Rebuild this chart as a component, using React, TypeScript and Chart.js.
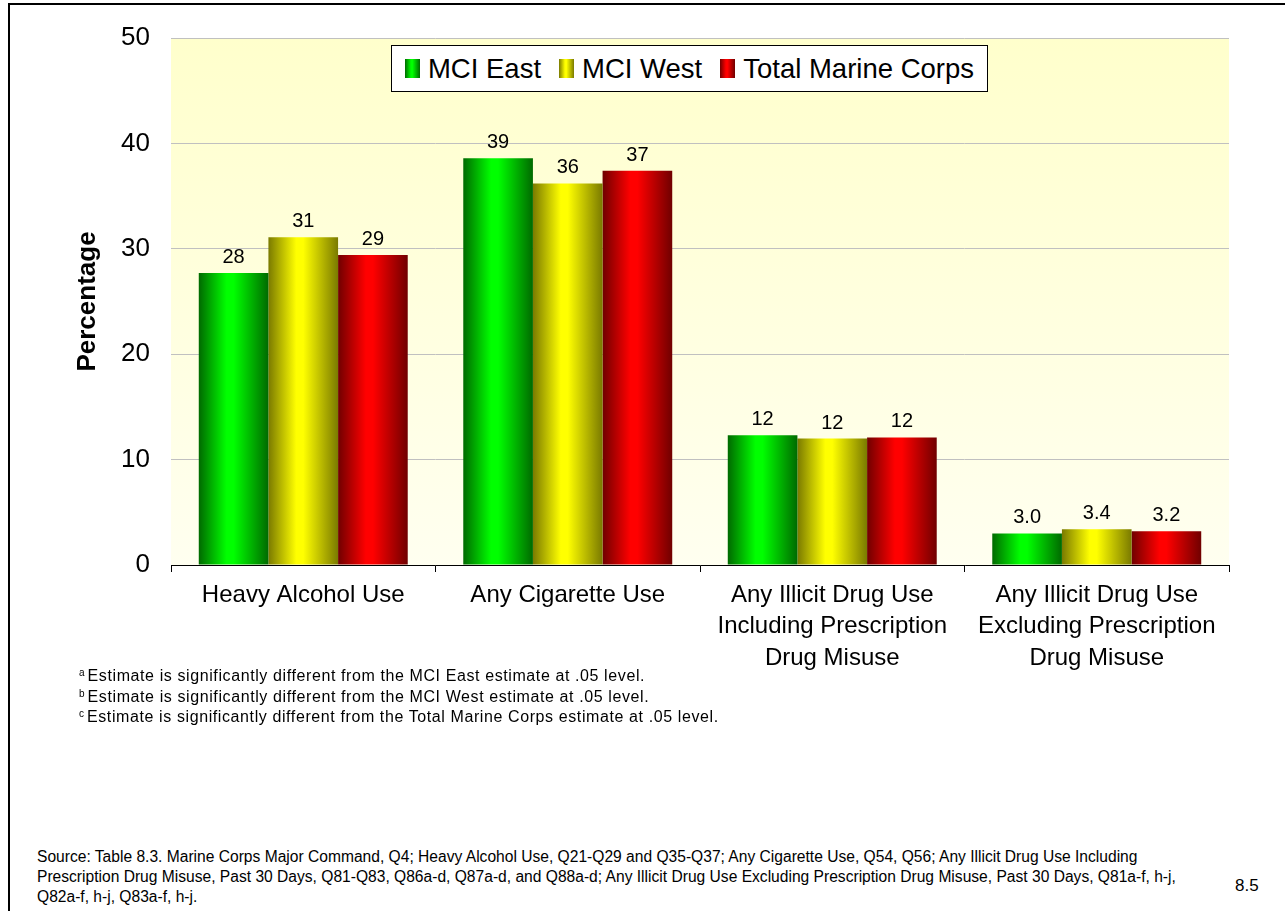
import React, { useEffect, useRef } from "react";
import { Chart, registerables } from "chart.js";

Chart.register(...registerables);

const FONT = '"Liberation Sans", Arial, Helvetica, sans-serif';

const categories: string[][] = [
  ["Heavy Alcohol Use"],
  ["Any Cigarette Use"],
  ["Any Illicit Drug Use", "Including Prescription", "Drug Misuse"],
  ["Any Illicit Drug Use", "Excluding Prescription", "Drug Misuse"],
];

const seriesNames = ["MCI East", "MCI West", "Total Marine Corps"];
const mciEast = [27.7, 38.6, 12.3, 3.0];
const mciWest = [31.1, 36.2, 12.0, 3.4];
const totalMarineCorps = [29.4, 37.4, 12.1, 3.2];

const yMin = 0;
const yMax = 50;
const yStep = 10;

const darkColors = ["#006a00", "#7a7a00", "#700000"];
const brightColors = ["#00ff00", "#ffff00", "#ff0000"];

const footnotes = [
  { mark: "a", text: "Estimate is significantly different from the MCI East estimate at .05 level." },
  { mark: "b", text: "Estimate is significantly different from the MCI West estimate at .05 level." },
  { mark: "c", text: "Estimate is significantly different from the Total Marine Corps estimate at .05 level." },
];

const sourceLines = [
  "Source: Table 8.3. Marine Corps Major Command, Q4; Heavy Alcohol Use, Q21-Q29 and Q35-Q37; Any Cigarette Use, Q54, Q56; Any Illicit Drug Use Including",
  "Prescription Drug Misuse, Past 30 Days, Q81-Q83, Q86a-d, Q87a-d, and Q88a-d; Any Illicit Drug Use Excluding Prescription Drug Misuse, Past 30 Days, Q81a-f, h-j,",
  "Q82a-f, h-j, Q83a-f, h-j.",
];

const pageNumber = "8.5";

function fmt(v: number): string {
  return v >= 10 ? Math.round(v).toString() : v.toFixed(1);
}

function swatchGradient(i: number): string {
  return `linear-gradient(to right, ${darkColors[i]} 0%, ${brightColors[i]} 40%, ${brightColors[i]} 50%, ${darkColors[i]} 100%)`;
}

export default function App() {
  const ref = useRef<HTMLCanvasElement>(null);

  useEffect(() => {
    const canvas = ref.current;
    if (!canvas) return;

    const plotBg = {
      id: "plotBg",
      beforeDraw(chart: any) {
        const { ctx, chartArea } = chart;
        if (!chartArea) return;
        const g = ctx.createLinearGradient(0, chartArea.top, 0, chartArea.bottom);
        g.addColorStop(0, "#ffffcc");
        g.addColorStop(1, "#fffff0");
        ctx.save();
        ctx.fillStyle = g;
        ctx.fillRect(chartArea.left, chartArea.top, chartArea.right - chartArea.left, chartArea.bottom - chartArea.top);
        ctx.restore();
      },
    };

    const barGradient = {
      id: "barGradient",
      beforeDatasetsDraw(chart: any) {
        const ctx = chart.ctx;
        chart.data.datasets.forEach((_ds: any, di: number) => {
          const meta = chart.getDatasetMeta(di);
          meta.data.forEach((el: any) => {
            const w = el.width;
            const x0 = el.x - w / 2;
            const g = ctx.createLinearGradient(x0, 0, x0 + w, 0);
            g.addColorStop(0, darkColors[di]);
            g.addColorStop(0.4, brightColors[di]);
            g.addColorStop(0.5, brightColors[di]);
            g.addColorStop(1, darkColors[di]);
            el.options.backgroundColor = g;
          });
        });
      },
    };

    const valueLabels = {
      id: "valueLabels",
      afterDatasetsDraw(chart: any) {
        const ctx = chart.ctx;
        ctx.save();
        ctx.font = `20px ${FONT}`;
        ctx.fillStyle = "#000";
        ctx.textAlign = "center";
        ctx.textBaseline = "alphabetic";
        chart.data.datasets.forEach((ds: any, di: number) => {
          const meta = chart.getDatasetMeta(di);
          meta.data.forEach((el: any, i: number) => {
            ctx.fillText(fmt(ds.data[i]), el.x, el.y - 10);
          });
        });
        ctx.restore();
      },
    };

    const series = [mciEast, mciWest, totalMarineCorps];

    const chart = new Chart(canvas, {
      type: "bar",
      data: {
        labels: categories as any,
        datasets: series.map((d, i) => ({
          label: seriesNames[i],
          data: d,
          backgroundColor: () => brightColors[i],
          borderWidth: 0,
          categoryPercentage: 0.79,
          barPercentage: 1,
        })),
      },
      options: {
        responsive: false,
        animation: false,
        devicePixelRatio: 1,
        layout: { padding: { top: 38, right: 56, left: 0, bottom: 0 } },
        plugins: {
          legend: { display: false },
          tooltip: { enabled: false },
        },
        scales: {
          x: {
            grid: {
              display: true,
              drawOnChartArea: false,
              drawTicks: true,
              tickLength: 7,
              color: "#000",
              offset: true,
            },
            border: { display: true, color: "#000", width: 1 },
            ticks: {
              color: "#000",
              font: { family: FONT, size: 24, lineHeight: 1.3 },
              padding: 8,
              maxRotation: 0,
              autoSkip: false,
            },
            afterFit(s: any) {
              s.height = 115;
            },
          },
          y: {
            min: yMin,
            max: yMax,
            ticks: {
              stepSize: yStep,
              color: "#000",
              font: { family: FONT, size: 26 },
              padding: 21,
            },
            grid: { color: "#c0c0c0", lineWidth: 1, drawTicks: false },
            border: { display: false },
            title: {
              display: true,
              text: "Percentage",
              color: "#000",
              font: { family: FONT, size: 26, weight: "bold" },
              padding: { top: 72, bottom: 0 },
            },
            afterFit(s: any) {
              s.width = 171;
            },
          },
        },
      },
      plugins: [plotBg, barGradient, valueLabels],
    } as any);

    return () => chart.destroy();
  }, []);

  return (
    <div style={{ position: "absolute", left: 0, top: 0, width: 1285, height: 911, background: "#fff", overflow: "hidden", fontFamily: FONT }}>
      <canvas ref={ref} width={1285} height={680} style={{ position: "absolute", left: 0, top: 0, width: 1285, height: 680 }} />
      <div style={{ position: "absolute", left: 8, top: 3, width: 1277, height: 2, background: "#000" }} />
      <div style={{ position: "absolute", left: 8, top: 3, width: 2, height: 908, background: "#000" }} />

      <div
        style={{
          position: "absolute",
          left: 391,
          top: 45,
          width: 597,
          height: 47,
          boxSizing: "border-box",
          border: "1.5px solid #000",
          background: "#fff",
          display: "flex",
          alignItems: "center",
          justifyContent: "center",
          gap: 18,
        }}
      >
        {seriesNames.map((n, i) => (
          <div key={n} style={{ display: "flex", alignItems: "center" }}>
            <span style={{ display: "inline-block", width: 15, height: 19, background: swatchGradient(i), marginRight: 8 }} />
            <span style={{ fontSize: 27.5, color: "#000", lineHeight: "30px" }}>{n}</span>
          </div>
        ))}
      </div>

      <div style={{ position: "absolute", left: 79, top: 666, fontSize: 16, lineHeight: "20.5px", color: "#000", letterSpacing: "0.6px" }}>
        {footnotes.map((f) => (
          <div key={f.mark} style={{ whiteSpace: "nowrap" }}>
            <span style={{ fontSize: 10, verticalAlign: "top", lineHeight: "14px", marginRight: 3, letterSpacing: 0 }}>{f.mark}</span>
            {f.text}
          </div>
        ))}
      </div>

      <div style={{ position: "absolute", left: 37, top: 847, fontSize: 15.6, lineHeight: "20px", color: "#000" }}>
        {sourceLines.map((l, i) => (
          <div key={i} style={{ whiteSpace: "nowrap" }}>{l}</div>
        ))}
      </div>

      <div style={{ position: "absolute", left: 1235, top: 876, fontSize: 17, lineHeight: "20px", color: "#000" }}>{pageNumber}</div>
    </div>
  );
}
